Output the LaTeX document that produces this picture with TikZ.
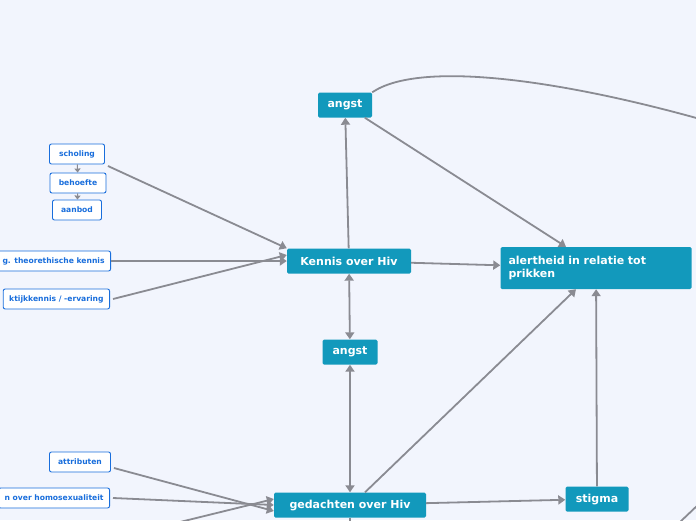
\documentclass[tikz,border=0pt]{standalone}
\usepackage{fontspec}
\setmainfont{DejaVu Sans}
\usetikzlibrary{arrows.meta}
\definecolor{bg}{RGB}{242,245,253}
\definecolor{topic}{RGB}{18,153,188}
\definecolor{sub}{RGB}{25,110,220}
\definecolor{link}{RGB}{138,139,146}

\begin{document}
\begin{tikzpicture}[x=1pt,y=-1pt]
\tikzstyle{topic}=[fill=topic,text=white,font=\bfseries\fontsize{11}{13}\selectfont,rounded corners=1.5pt,inner sep=0pt,minimum height=25pt]
\tikzstyle{leaf}=[draw=sub,fill=white,text=sub,font=\bfseries\fontsize{7.6}{9}\selectfont,rounded corners=2pt,line width=0.9pt,inner xsep=6pt,minimum height=20pt]
\tikzstyle{link}=[draw=link,line width=1.8pt,-{Triangle[width=9pt,length=7pt]}]
\useasboundingbox[fill=bg] (0,0) rectangle (696,520);
\begin{scope}
\clip (0,0) rectangle (696,520);
\path (345,105) node[topic,minimum width=54pt](angstA){angst};
\path (349,261) node[topic,minimum width=124pt](kennis){Kennis over Hiv};
\path (596,268) node[topic,minimum width=191pt,minimum height=42pt,align=left,text width=175pt](alert){alertheid in relatie tot\\prikken};
\path (350,352) node[topic,minimum width=55pt](angstB){angst};
\path (350,505) node[topic,minimum width=152pt](gedacht){gedachten over Hiv};
\path (597,499) node[topic,minimum width=63pt](stigma){stigma};
\path (77,154) node[leaf,minimum width=55pt](scholing){scholing} (78,183) node[leaf,minimum width=56pt](behoefte){behoefte} (77,210) node[leaf,minimum width=49pt](aanbod){aanbod};
\path (111,261) node[leaf,anchor=east](theorie){g. theorethische kennis} (110,299) node[leaf,anchor=east](praktijk){ktijkkennis / -ervaring};
\path (80,462) node[leaf,minimum width=61pt](attrib){attributen} (110,498) node[leaf,anchor=east](homo){n over homosexualiteit};
\coordinate (lowA) at (180,522);
\coordinate (lowB) at (350,525);
\coordinate (rimA) at (700,119);
\coordinate (rimB) at (680,522);
\coordinate (rimC) at (700,503);
\draw[link,-{Triangle[width=6pt,length=4pt]},line width=1pt] (scholing) -- (behoefte);
\draw[link,-{Triangle[width=6pt,length=4pt]},line width=1pt] (behoefte) -- (aanbod);
\draw[link] (scholing.east) ++(3,12) -- (kennis.north west);
\draw[link] (theorie) -- (kennis);
\draw[link] (praktijk.east) ++(3,0) -- ([yshift=6pt]kennis.west);
\draw[link] (kennis) -- (angstA);
\draw[link] (angstA) -- ([xshift=-30pt]alert.north);
\draw[link] (kennis) -- (alert);
\draw[link,{Triangle[width=9pt,length=7pt]}-{Triangle[width=9pt,length=7pt]}] (kennis) -- (angstB);
\draw[link,{Triangle[width=9pt,length=7pt]}-{Triangle[width=9pt,length=7pt]}] (angstB) -- (gedacht);
\draw[link] ([xshift=15pt]gedacht.north) -- ([xshift=-20pt]alert.south);
\draw[link] (stigma) -- (alert);
\draw[link] (gedacht) -- (stigma);
\draw[link] (attrib.east) ++(3,6) -- ([yshift=-6pt]gedacht.west);
\draw[link] (homo.east) ++(3,0) -- (gedacht.west);
\draw[link] (lowA) -- ([yshift=6pt]gedacht.west);
\draw[link,-] (gedacht.south) -- (lowB);
\draw[link,-] (angstA.north east) .. controls (420,60) and (560,80) .. (rimA);
\draw[link,-] (rimB) -- (rimC);
\end{scope}
\end{tikzpicture}
\end{document}
